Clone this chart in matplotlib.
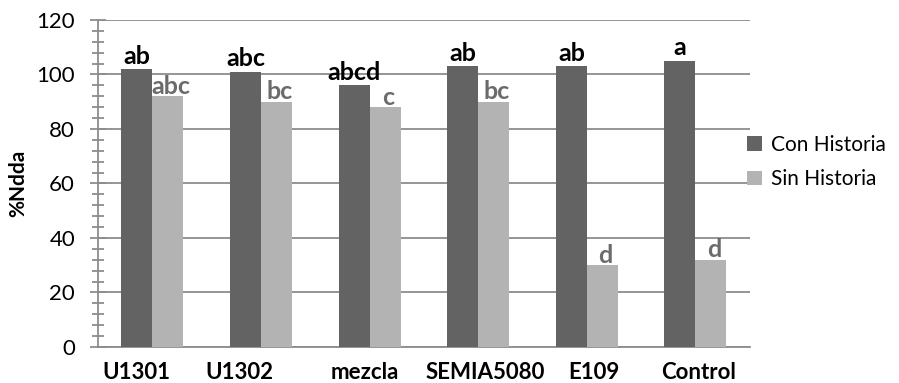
import matplotlib
matplotlib.use("Agg")
import matplotlib.pyplot as plt
import matplotlib.transforms as mtransforms
import numpy as np
from matplotlib.ticker import MultipleLocator

# data
categories = ["U1301", "U1302", "mezcla", "SEMIA5080", "E109", "Control"]
con_historia = [102, 101, 96, 103, 103, 105]
sin_historia = [92, 90, 88, 90, 30, 32]
letras_con = ["ab", "abc", "abcd", "ab", "ab", "a"]
letras_sin = ["abc", "bc", "c", "bc", "d", "d"]

# horizontal shift of each category label in pixels (Excel placed them unevenly)
label_shift_px = [-16, -22, -5, 7, 7, 3]

plt.rcParams["font.family"] = ["Lato", "DejaVu Sans"]

dark = "#636363"
light = "#b3b3b3"
axis_grey = "#8c8c8c"

fig = plt.figure(figsize=(8.99, 3.83), dpi=100)
ax = fig.add_axes([0.109, 0.094, 0.725, 0.854])

x = np.arange(len(categories))
w = 0.285
b1 = ax.bar(x - w / 2, con_historia, w, color=dark, label="Con Historia", zorder=3)
b2 = ax.bar(x + w / 2, sin_historia, w, color=light, label="Sin Historia", zorder=3)

for rect, txt in zip(b1, letras_con):
    ax.annotate(txt, (rect.get_x() + rect.get_width() / 2, rect.get_height()),
                xytext=(0, 1), textcoords="offset points", ha="center", va="bottom",
                fontsize=18, fontweight="bold", color="black", zorder=4)
for rect, txt in zip(b2, letras_sin):
    ax.annotate(txt, (rect.get_x() + rect.get_width() / 2 + 0.03, rect.get_height()),
                xytext=(0, -1), textcoords="offset points", ha="center", va="bottom",
                fontsize=18, fontweight="bold", color="#6b6b6b", zorder=4)

ax.set_xlim(-0.5, len(categories) - 0.5)
ax.set_ylim(0, 120)
ax.yaxis.set_major_locator(MultipleLocator(20))
ax.yaxis.set_minor_locator(MultipleLocator(4))
ax.grid(axis="y", color=axis_grey, linewidth=1.3, zorder=0)

for s in ["top", "right"]:
    ax.spines[s].set_visible(False)
ax.spines["left"].set_color(axis_grey)
ax.spines["left"].set_linewidth(1.3)
ax.spines["bottom"].set_color(axis_grey)
ax.spines["bottom"].set_linewidth(1.3)

ax.tick_params(axis="y", which="major", direction="inout", length=11, width=1.3,
               color=axis_grey, labelsize=16, pad=11)
ax.tick_params(axis="y", which="minor", direction="inout", length=9, width=1.3,
               color=axis_grey)
ax.set_xticks(x)
ax.set_xticklabels(categories, fontsize=16, fontweight="bold")
ax.tick_params(axis="x", length=0, pad=11)
for lab, dx in zip(ax.get_xticklabels(), label_shift_px):
    lab.set_transform(lab.get_transform() + mtransforms.Affine2D().translate(dx, 0))

ax.set_ylabel("%Ndda", fontsize=15, fontweight="bold", labelpad=6)

ax.legend(loc="center left", bbox_to_anchor=(0.967, 0.565), frameon=False,
          fontsize=15, handlelength=0.7, handleheight=0.7, handletextpad=0.45,
          labelspacing=0.7)

fig.savefig("out.png", dpi=100)
